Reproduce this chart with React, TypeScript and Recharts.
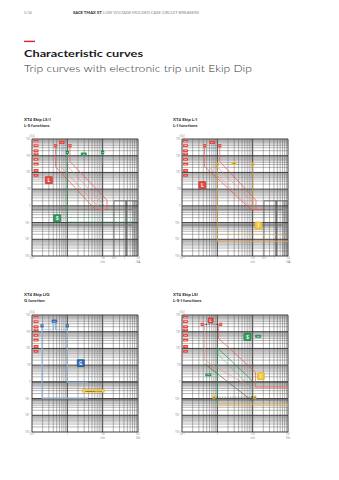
import React from "react";
import { ComposedChart, XAxis, YAxis, Scatter, ReferenceLine, ReferenceArea } from "recharts";

type Pt = { x: number; y: number };
type Tag = { x: number; y: number; text: string; kind: string };

// axes
const X_TICKS_KA = [0.1, 1, 10, 21, 42, 100];
const X_LABELS_KA = ["10⁻¹", "1", "10", "10⁻¹", "1", "10"];
const X_UNITS_KA = ["", "", "x In", "", "", "I kA"];
const X_TICKS_IN = [0.1, 1, 10, 100];
const X_LABELS_IN = ["10⁻¹", "1", "10", "10²"];
const X_UNITS_IN = ["", "", "x In", "I/In"];
const Y_TICKS = [0.001, 0.01, 0.1, 1, 10, 100, 1000, 10000];
const Y_LABELS = ["10⁻³", "10⁻²", "10⁻¹", "1", "10", "10²", "10³", "10⁴"];
const GRID_STEPS = [1, 2, 3, 4, 5, 6, 7, 8, 9];
const GRID_DECADES_X = [0.1, 1, 10];
const GRID_DECADES_Y = [0.001, 0.01, 0.1, 1, 10, 100, 1000];

// t1 tabs, same column on every chart
const T1_TAB_T = [7700, 4000, 2000, 1300, 610, 310, 130, 66];
const T1_TAB_TEXT = ["144", "108", "72", "48", "36", "24", "12", "3"];

// XT4 Ekip LS/I
const LSI_L_MIN: Pt[] = [{ x: 0.464, y: 3960 }, { x: 0.464, y: 224 }, { x: 6.2, y: 0.6 }, { x: 13.3, y: 0.6 }];
const LSI_L_MAX: Pt[] = [{ x: 1.19, y: 3960 }, { x: 1.19, y: 450 }, { x: 13.3, y: 2.2 }, { x: 13.3, y: 0.6 }];
const LSI_L_MID1: Pt[] = [{ x: 0.6, y: 260 }, { x: 9, y: 0.6 }];
const LSI_L_MID2: Pt[] = [{ x: 0.9, y: 300 }, { x: 11.5, y: 1.0 }];
const LSI_I1_SPAN: Pt[] = [{ x: 0.464, y: 2620 }, { x: 1.19, y: 2620 }];
const LSI_I2_MIN: Pt[] = [{ x: 1, y: 1300 }, { x: 1, y: 360 }];
const LSI_I2_MID: Pt[] = [{ x: 2.92, y: 1000 }, { x: 2.92, y: 450 }];
const LSI_I2_MAX: Pt[] = [{ x: 10, y: 1300 }, { x: 10, y: 360 }];
const LSI_S_VERT: Pt[] = [{ x: 1, y: 1600 }, { x: 1, y: 0.11 }];
const LSI_S_T2_HI: Pt[] = [{ x: 1, y: 0.2 }, { x: 80, y: 0.2 }];
const LSI_S_T2_LO: Pt[] = [{ x: 1, y: 0.11 }, { x: 80, y: 0.11 }];
const KA_BOX: Pt[] = [{ x: 21, y: 0.001 }, { x: 21, y: 2 }, { x: 100, y: 2 }];
const LSI_TAGS: Tag[] = [
  { x: 0.464, y: 3960, text: "I1", kind: "redS" },
  { x: 0.7, y: 6340, text: "I1", kind: "redW" },
  { x: 1.19, y: 3960, text: "I1", kind: "redS" },
  { x: 1, y: 1590, text: "I2", kind: "greenS" },
  { x: 2.92, y: 1260, text: "I2", kind: "greenW" },
  { x: 10, y: 1590, text: "I2", kind: "greenS" },
  { x: 0.3, y: 34.6, text: "L", kind: "redBig" },
  { x: 0.516, y: 0.18, text: "S", kind: "greenBig" },
];

// XT4 Ekip L/I
const LI_L_MIN: Pt[] = [{ x: 0.435, y: 3960 }, { x: 0.435, y: 224 }, { x: 9, y: 0.6 }, { x: 20, y: 0.6 }];
const LI_L_MAX: Pt[] = [{ x: 1.17, y: 3960 }, { x: 1.17, y: 450 }, { x: 12.4, y: 2.2 }, { x: 12.4, y: 0.6 }];
const LI_L_MID1: Pt[] = [{ x: 0.58, y: 200 }, { x: 9.5, y: 0.75 }];
const LI_L_MID2: Pt[] = [{ x: 0.85, y: 300 }, { x: 11.5, y: 1.2 }];
const LI_I1_SPAN: Pt[] = [{ x: 0.435, y: 2620 }, { x: 1.17, y: 2620 }];
const LI_I3_MIN_DOT: Pt[] = [{ x: 1, y: 250 }, { x: 1, y: 140 }];
const LI_I3_MAX_DOT: Pt[] = [{ x: 10, y: 250 }, { x: 10, y: 140 }];
const LI_I_MIN: Pt[] = [{ x: 1, y: 300 }, { x: 1, y: 0.0075 }, { x: 100, y: 0.0075 }];
const LI_I_MAX: Pt[] = [{ x: 10, y: 250 }, { x: 10, y: 0.6 }];
const LI_I_T: Pt[] = [{ x: 1, y: 0.019 }, { x: 80, y: 0.019 }];
const LI_TAGS: Tag[] = [
  { x: 0.435, y: 3960, text: "I1", kind: "redS" },
  { x: 0.72, y: 6340, text: "I1", kind: "redW" },
  { x: 1.17, y: 3960, text: "I1", kind: "redS" },
  { x: 1, y: 316, text: "I3", kind: "yellowS" },
  { x: 2.96, y: 347, text: "I3", kind: "yellowW" },
  { x: 10, y: 316, text: "I3", kind: "yellowS" },
  { x: 0.375, y: 17.4, text: "L", kind: "redBig" },
  { x: 14.6, y: 0.066, text: "I", kind: "yellowBig" },
];

// XT4 Ekip LIG
const LIG_G_MIN: Pt[] = [{ x: 0.192, y: 2000 }, { x: 0.192, y: 0.107 }, { x: 3.93, y: 0.107 }];
const LIG_G_MAX: Pt[] = [{ x: 1, y: 2000 }, { x: 1, y: 0.944 }, { x: 3.93, y: 0.944 }];
const LIG_I4_SPAN: Pt[] = [{ x: 0.192, y: 1370 }, { x: 1, y: 1370 }];
const LIG_T4_A: Pt[] = [{ x: 0.4, y: 4000 }, { x: 0.4, y: 1370 }];
const LIG_T4_B: Pt[] = [{ x: 0.46, y: 4000 }, { x: 0.46, y: 1370 }];
const LIG_TAGS: Tag[] = [
  { x: 0.192, y: 2260, text: "I4", kind: "blueS" },
  { x: 0.43, y: 4340, text: "t4", kind: "blueW" },
  { x: 1, y: 2260, text: "I4", kind: "blueS" },
  { x: 2.4, y: 13.2, text: "G", kind: "blueBig" },
  { x: 5.45, y: 0.288, text: "Limited by I ≤ 4 In", kind: "note" },
];

// XT4 Ekip LSI
const LSI4_L_MIN: Pt[] = [{ x: 0.436, y: 2735 }, { x: 0.436, y: 19.2 }, { x: 9.6, y: 0.436 }, { x: 100, y: 0.436 }];
const LSI4_L_MAX: Pt[] = [{ x: 1.09, y: 2735 }, { x: 1.09, y: 393 }, { x: 12, y: 3.8 }, { x: 12, y: 0.5 }, { x: 100, y: 0.5 }];
const LSI4_I1_SPAN: Pt[] = [{ x: 0.436, y: 2735 }, { x: 1.09, y: 2735 }];
const LSI4_S_A: Pt[] = [{ x: 1, y: 49 }, { x: 9.6, y: 0.38 }];
const LSI4_S_B: Pt[] = [{ x: 0.436, y: 12.2 }, { x: 9.6, y: 0.074 }];
const LSI4_S_C: Pt[] = [{ x: 1, y: 110 }, { x: 10.5, y: 1.0 }];
const LSI4_S_VERT: Pt[] = [{ x: 1, y: 110 }, { x: 1, y: 0.049 }];
const LSI4_S_VERT2: Pt[] = [{ x: 10, y: 0.9 }, { x: 10, y: 0.049 }];
const LSI4_I_HI: Pt[] = [{ x: 1, y: 0.047 }, { x: 100, y: 0.047 }];
const LSI4_I_LO: Pt[] = [{ x: 1, y: 0.038 }, { x: 100, y: 0.038 }];
const LSI4_I3_SPAN: Pt[] = [{ x: 1, y: 0.123 }, { x: 9.6, y: 0.123 }];
const LSI4_TAGS: Tag[] = [
  { x: 0.374, y: 2735, text: "I1", kind: "redS" },
  { x: 0.645, y: 4750, text: "L", kind: "redMid" },
  { x: 1.24, y: 2735, text: "I1", kind: "redS" },
  { x: 0.485, y: 2735, text: "", kind: "dot" },
  { x: 1, y: 2735, text: "", kind: "dot" },
  { x: 7.1, y: 490, text: "S", kind: "greenBig" },
  { x: 14.3, y: 540, text: "I2", kind: "greenW" },
  { x: 0.554, y: 2.63, text: "t2", kind: "greenW" },
  { x: 17, y: 2.18, text: "I", kind: "yellowBig" },
  { x: 0.8, y: 0.123, text: "I3", kind: "yellowS" },
  { x: 11.5, y: 0.123, text: "I3", kind: "yellowS" },
  { x: 1, y: 0.123, text: "", kind: "dot" },
  { x: 9.6, y: 0.123, text: "", kind: "dot" },
];

// gray bands (time ranges) and kA box shading
const BANDS_TOP = [{ y1: 0.52, y2: 0.68 }, { y1: 0.06, y2: 0.08 }];
const BANDS_BOTTOM = [{ y1: 0.85, y2: 1.1 }, { y1: 0.075, y2: 0.097 }];
const KA_SHADE_DARK = { x1: 43.5, x2: 49.5, y1: 0.001, y2: 2 };
const KA_SHADE_LIGHT = { x1: 70, x2: 100, y1: 0.001, y2: 2 };

const LINE_STYLE: Record<string, any> = {
  red: { stroke: "#e5584d", strokeWidth: 0.7 },
  redLight: { stroke: "#ee8f86", strokeWidth: 0.6 },
  cyanDot: { stroke: "#4fb0d6", strokeWidth: 0.8, strokeDasharray: "0.8 0.8" },
  green: { stroke: "#2f9a58", strokeWidth: 0.75 },
  greenDash: { stroke: "#44a96a", strokeWidth: 0.65, strokeDasharray: "2 1" },
  orange: { stroke: "#f0b04e", strokeWidth: 0.75 },
  orangeDash: { stroke: "#efb24e", strokeWidth: 0.65, strokeDasharray: "2 1" },
  blue: { stroke: "#94b2d4", strokeWidth: 1.1 },
  blueDot: { stroke: "#5e9ad4", strokeWidth: 0.65, strokeDasharray: "0.8 0.8" },
  olive: { stroke: "#4e5d2a", strokeWidth: 0.6 },
  blackDot: { stroke: "#222", strokeWidth: 0.5, strokeDasharray: "0.8 0.8" },
  box: { stroke: "#555", strokeWidth: 0.7 },
};

const TAG_STYLE: Record<string, any> = {
  tab: { w: 5, h: 2.8, fill: "#e9493f", color: "#fff", fs: 1.9 },
  redS: { w: 3.2, h: 3.2, fill: "#e9493f", color: "#fff", fs: 1.8 },
  redW: { w: 5.5, h: 3.2, fill: "#e9493f", color: "#fff", fs: 1.8 },
  redMid: { w: 5, h: 5, fill: "#e9493f", stroke: "#c0302a", color: "#fff", fs: 3.6 },
  redBig: { w: 7, h: 7, fill: "#e9493f", stroke: "#c0302a", color: "#fff", fs: 4.6 },
  greenS: { w: 3.2, h: 3.6, fill: "#1f8a4c", color: "#fff", fs: 1.8 },
  greenW: { w: 6, h: 3, fill: "#2e9a5a", color: "#fff", fs: 1.8 },
  greenBig: { w: 7, h: 7, fill: "#3aa463", stroke: "#14703a", color: "#fff", fs: 4.6 },
  yellowS: { w: 3.2, h: 3.2, fill: "#f1b92c", color: "#333", fs: 1.8 },
  yellowW: { w: 5, h: 3, fill: "#f1b92c", color: "#333", fs: 1.8 },
  yellowBig: { w: 7, h: 7, fill: "#f5c542", stroke: "#e7ad1c", color: "#fff", fs: 4.6 },
  blueS: { w: 3.2, h: 3.2, fill: "#2d6cb3", color: "#fff", fs: 1.8 },
  blueW: { w: 5.5, h: 3.2, fill: "#2d6cb3", color: "#fff", fs: 1.8 },
  blueBig: { w: 7, h: 7, fill: "#2f6db7", stroke: "#1c4f8c", color: "#fff", fs: 4.6 },
  note: { w: 23, h: 3.4, fill: "#f5c542", color: "#333", fs: 1.9 },
  dot: { w: 1.2, h: 1.2, fill: "#222" },
};

const t1Tags = (x: number): Tag[] =>
  T1_TAB_T.map((t, i) => ({ x, y: t, text: T1_TAB_TEXT[i], kind: "tab" }));

const CHARTS = [
  {
    key: "lsi",
    left: 22,
    top: 133,
    xTicks: X_TICKS_KA,
    xLabels: X_LABELS_KA,
    xUnits: X_UNITS_KA,
    bands: BANDS_TOP,
    kaBox: true,
    lines: [
      [LSI_L_MIN, "red"], [LSI_L_MAX, "red"], [LSI_L_MID1, "redLight"], [LSI_L_MID2, "redLight"],
      [LSI_I1_SPAN, "cyanDot"], [LSI_S_VERT, "green"], [LSI_S_T2_HI, "greenDash"], [LSI_S_T2_LO, "greenDash"],
      [LSI_I2_MIN, "cyanDot"], [LSI_I2_MID, "cyanDot"], [LSI_I2_MAX, "cyanDot"],
    ],
    tags: [...t1Tags(0.13), ...LSI_TAGS],
  },
  {
    key: "li",
    left: 172,
    top: 133,
    xTicks: X_TICKS_KA,
    xLabels: X_LABELS_KA,
    xUnits: X_UNITS_KA,
    bands: BANDS_TOP,
    kaBox: true,
    lines: [
      [LI_L_MIN, "red"], [LI_L_MAX, "red"], [LI_L_MID1, "redLight"], [LI_L_MID2, "redLight"],
      [LI_I1_SPAN, "cyanDot"], [LI_I_MIN, "orange"], [LI_I_MAX, "orange"], [LI_I_T, "orangeDash"],
      [LI_I3_MIN_DOT, "cyanDot"], [LI_I3_MAX_DOT, "cyanDot"],
    ],
    tags: [...t1Tags(0.126), ...LI_TAGS],
  },
  {
    key: "lig",
    left: 22,
    top: 309,
    xTicks: X_TICKS_IN,
    xLabels: X_LABELS_IN,
    xUnits: X_UNITS_IN,
    bands: BANDS_BOTTOM,
    kaBox: false,
    lines: [
      [LIG_G_MIN, "blue"], [LIG_G_MAX, "blue"], [LIG_I4_SPAN, "blueDot"], [LIG_T4_A, "blue"], [LIG_T4_B, "blue"],
    ],
    tags: [...t1Tags(0.13), ...LIG_TAGS],
  },
  {
    key: "lsi4",
    left: 172,
    top: 309,
    xTicks: X_TICKS_IN,
    xLabels: X_LABELS_IN,
    xUnits: X_UNITS_IN,
    bands: BANDS_BOTTOM,
    kaBox: false,
    lines: [
      [LSI4_L_MIN, "redLight"], [LSI4_L_MAX, "red"], [LSI4_I1_SPAN, "blackDot"],
      [LSI4_S_C, "green"], [LSI4_S_A, "greenDash"], [LSI4_S_B, "olive"],
      [LSI4_S_VERT, "green"], [LSI4_S_VERT2, "greenDash"],
      [LSI4_I_HI, "orange"], [LSI4_I_LO, "orangeDash"], [LSI4_I3_SPAN, "blackDot"],
    ],
    tags: [...t1Tags(0.126), ...LSI4_TAGS],
  },
];

const TITLES = [
  { x: 24, y: 120.5, title: "XT4 Ekip LS/I", sub: "L-S functions" },
  { x: 173, y: 120.5, title: "XT4 Ekip L/I", sub: "L-I functions" },
  { x: 24, y: 296, title: "XT4 Ekip LIG", sub: "G function" },
  { x: 173, y: 296, title: "XT4 Ekip LSI", sub: "L-S-I functions" },
];

const GRID_X = GRID_DECADES_X.flatMap((d) => GRID_STEPS.map((s) => d * s)).concat([100]);
const GRID_Y = GRID_DECADES_Y.flatMap((d) => GRID_STEPS.map((s) => d * s)).concat([10000]);
const isDecade = (v: number) => Math.abs(Math.log10(v) - Math.round(Math.log10(v))) < 1e-6;

const Empty = () => <g />;

function TagShape(props: any) {
  const { cx, cy, payload } = props;
  const st = TAG_STYLE[payload.kind];
  if (cx == null || cy == null || !st) return <g />;
  return (
    <g>
      <rect
        x={cx - st.w / 2}
        y={cy - st.h / 2}
        width={st.w}
        height={st.h}
        rx={0.4}
        fill={st.fill}
        stroke={st.stroke || "none"}
        strokeWidth={st.stroke ? 0.7 : 0}
      />
      {payload.text ? (
        <text
          x={cx}
          y={cy + st.fs * 0.36}
          textAnchor="middle"
          fontSize={st.fs}
          fontWeight="bold"
          fontFamily="'Open Sans', sans-serif"
          fill={st.color}
        >
          {payload.text}
        </text>
      ) : null}
    </g>
  );
}

function TripChart({ left, top, xTicks, xLabels, xUnits, bands, kaBox, lines, tags }: any) {
  const renderXTick = (p: any) => {
    const i = xTicks.indexOf(p.payload.value);
    return (
      <g>
        <text x={p.x} y={p.y + 2} textAnchor="middle" fontSize={3} fill="#666" fontFamily="'Open Sans', sans-serif">
          {xLabels[i]}
        </text>
        {xUnits[i] ? (
          <text x={p.x} y={p.y + 5.5} textAnchor="middle" fontSize={2.6} fill="#666" fontFamily="'Open Sans', sans-serif">
            {xUnits[i]}
          </text>
        ) : null}
      </g>
    );
  };
  const renderYTick = (p: any) => {
    const i = Y_TICKS.indexOf(p.payload.value);
    return (
      <text x={p.x} y={p.y + 1} textAnchor="end" fontSize={3} fill="#666" fontFamily="'Open Sans', sans-serif">
        {Y_LABELS[i]}
      </text>
    );
  };
  return (
    <div style={{ position: "absolute", left, top }}>
      <ComposedChart width={120} height={133} margin={{ top: 6, right: 4, bottom: 0, left: 0 }}>
        <XAxis
          type="number"
          dataKey="x"
          scale="log"
          domain={[0.1, 100]}
          allowDataOverflow
          ticks={xTicks}
          interval={0}
          axisLine={false}
          tickLine={false}
          tickSize={0}
          tickMargin={1}
          height={10}
          tick={renderXTick}
        />
        <YAxis
          type="number"
          dataKey="y"
          scale="log"
          domain={[0.001, 10000]}
          allowDataOverflow
          ticks={Y_TICKS}
          interval={0}
          axisLine={false}
          tickLine={false}
          tickSize={0}
          tickMargin={1.5}
          width={10}
          tick={renderYTick}
        />
        {bands.map((b: any, i: number) => (
          <ReferenceArea key={"b" + i} y1={b.y1} y2={b.y2} fill="#b3b3b3" fillOpacity={1} stroke="none" />
        ))}
        {kaBox ? <ReferenceArea {...KA_SHADE_LIGHT} fill="#c6c6c6" fillOpacity={1} stroke="none" /> : null}
        {kaBox ? <ReferenceArea {...KA_SHADE_DARK} fill="#7a7a7a" fillOpacity={1} stroke="none" /> : null}
        {GRID_X.map((v) => (
          <ReferenceLine key={"gx" + v} x={v} stroke={isDecade(v) ? "#2b2b2b" : "#5a5a5a"} strokeWidth={isDecade(v) ? 0.9 : 0.45} />
        ))}
        {GRID_Y.map((v) => (
          <ReferenceLine key={"gy" + v} y={v} stroke={isDecade(v) ? "#2b2b2b" : "#5a5a5a"} strokeWidth={isDecade(v) ? 0.9 : 0.45} />
        ))}
        {kaBox ? (
          <Scatter data={KA_BOX} line={LINE_STYLE.box} lineType="joint" shape={Empty} isAnimationActive={false} />
        ) : null}
        {lines.map(([pts, style]: any, i: number) => (
          <Scatter key={"l" + i} data={pts} line={LINE_STYLE[style]} lineType="joint" shape={Empty} isAnimationActive={false} />
        ))}
        <Scatter data={tags} shape={TagShape} isAnimationActive={false} />
      </ComposedChart>
    </div>
  );
}

export default function App() {
  return (
    <div style={{ position: "absolute", left: 0, top: 0, width: 339, height: 480, background: "#fff", overflow: "hidden" }}>
      <svg width={339} height={480} style={{ position: "absolute", left: 0, top: 0 }} fontFamily="Lato, 'Open Sans', sans-serif">
        <text x={24} y={13.5} fontSize={3.6} fill="#888">5/34</text>
        <text x={73} y={13.5} fontSize={3.6} fill="#888" textLength={126} lengthAdjust="spacingAndGlyphs">
          <tspan fontWeight="bold" fill="#222">SACE TMAX XT</tspan> LOW VOLTAGE MOLDED CASE CIRCUIT-BREAKERS
        </text>
        <rect x={24} y={40.7} width={11} height={1.4} fill="#e2202b" />
        <text x={24} y={57.3} fontSize={10} fontWeight="bold" fill="#1a1a1a" textLength={119} lengthAdjust="spacingAndGlyphs">
          Characteristic curves
        </text>
        <text x={24} y={71.7} fontSize={10} fontWeight={300} fill="#333" textLength={228} lengthAdjust="spacingAndGlyphs">
          Trip curves with electronic trip unit Ekip Dip
        </text>
        {TITLES.map((t) => (
          <g key={t.title}>
            <text x={t.x} y={t.y} fontSize={4.4} fontWeight="bold" fill="#1a1a1a">{t.title}</text>
            <text x={t.x} y={t.y + 6} fontSize={4.4} fontWeight="bold" fill="#1a1a1a">{t.sub}</text>
          </g>
        ))}
        {CHARTS.map((c) => (
          <text key={"ts" + c.key} x={c.left + 10} y={c.top + 3.5} fontSize={2.8} fill="#666" textAnchor="middle" fontFamily="'Open Sans', sans-serif">
            t [s]
          </text>
        ))}
      </svg>
      {CHARTS.map((c) => (
        <TripChart key={c.key} {...c} />
      ))}
    </div>
  );
}
